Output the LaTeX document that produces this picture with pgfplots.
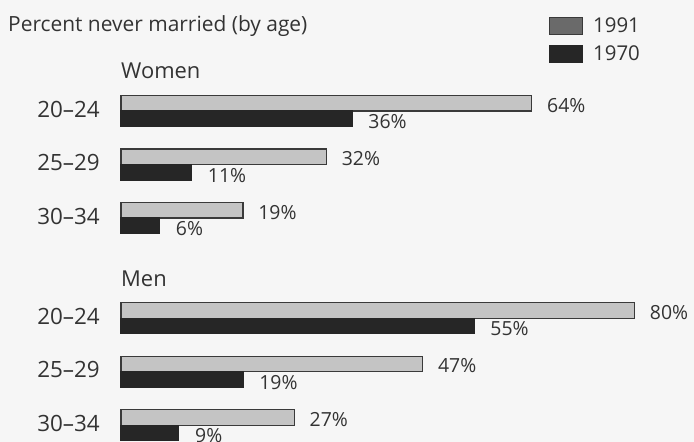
\documentclass[border=0pt]{standalone}
\usepackage{pgfplots}
\pgfplotsset{compat=1.18}
\usepackage{fontspec}
\setmainfont{Open Sans}
\definecolor{txt}{HTML}{333333}
\definecolor{lightbar}{HTML}{C4C4C4}
\definecolor{darkbar}{HTML}{262626}
\definecolor{edge}{HTML}{3A3A3A}
\definecolor{bg}{HTML}{F6F6F6}
\definecolor{legl}{HTML}{6A6A6A}
\begin{document}
\begin{tikzpicture}
\useasboundingbox[fill=bg] (0,0) rectangle (694bp,-442bp);
\node[anchor=base west, inner sep=0pt, text=txt, font=\fontsize{21}{25}\selectfont] at (8bp,-31bp) {Percent never married (by age)};
\node[anchor=base west, inner sep=0pt, text=txt, font=\fontsize{22}{26}\selectfont] at (121bp,-78bp) {Women};
\node[anchor=base west, inner sep=0pt, text=txt, font=\fontsize{22}{26}\selectfont] at (121bp,-286bp) {Men};
\begin{axis}[
  at={(121bp,-6.7bp)}, anchor=north west,
  scale only axis, width=513.6bp, height=436bp,
  xmin=0, xmax=80, ymin=-1.95, ymax=6.2, y dir=reverse,
  xbar=0pt, bar width=15.5bp,
  clip=false,
  axis line style={draw=none}, tick style={draw=none},
  xtick=\empty,
  ytick={0,1,2,3.87,4.87,5.87},
  yticklabels={20–24,25–29,30–34,20–24,25–29,30–34},
  yticklabel style={font=\fontsize{22.5}{26}\selectfont, text=txt, xshift=-13.5bp, yshift=2bp},
  /pgf/number format/assume math mode=true,
  nodes near coords={\pgfmathprintnumber{\pgfplotspointmeta}\%},
  legend cell align=left,
  legend style={at={(0.8333,0.9764)}, anchor=north west, draw=none, fill=none,
    inner sep=0pt, row sep=10bp, column sep=10bp,
    nodes={inner sep=0pt, text=txt, font=\fontsize{20.5}{24}\selectfont}},
]
\addplot[fill=lightbar, draw=edge, line width=1.1bp, bar shift=7.75bp,
  every node near coord/.append style={anchor=west, font=\fontsize{19.5}{23}\selectfont, text=txt, xshift=11.5bp, yshift=-2bp},
  legend image code/.code={\draw[fill=legl, draw=edge, line width=1bp] (0bp,-8.5bp) rectangle (33bp,8.5bp);}]
  coordinates {(64,0) (32,1) (19,2) (80,3.87) (47,4.87) (27,5.87)};
\addplot[fill=darkbar, draw=darkbar, line width=1.1bp, bar shift=-7.75bp,
  every node near coord/.append style={anchor=west, font=\fontsize{19.5}{23}\selectfont, text=txt, xshift=12.5bp, yshift=-3bp},
  legend image code/.code={\draw[fill=darkbar, draw=darkbar, line width=1bp] (0bp,-8.5bp) rectangle (33bp,8.5bp);}]
  coordinates {(36,0) (11,1) (6,2) (55,3.87) (19,4.87) (9,5.87)};
\legend{1991,1970}
\end{axis}
\end{tikzpicture}
\end{document}
